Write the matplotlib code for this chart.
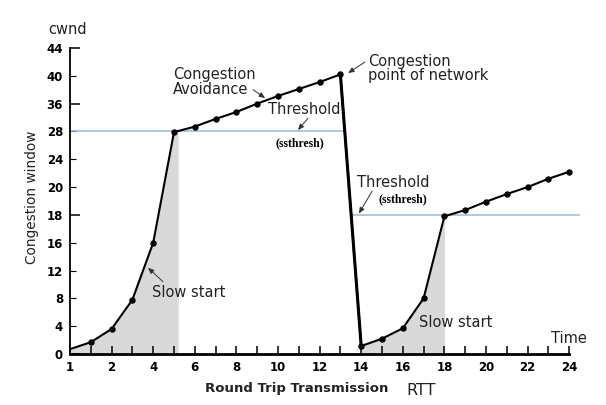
import numpy as np
import matplotlib.pyplot as plt

plt.rcParams['font.family'] = ['DejaVu Sans']

# curve points (x in RTT steps, y on the drawn window scale)
ss1_x = [0, 1, 2, 3, 4, 5]
ss1_y = [0.7, 1.7, 3.6, 7.8, 16.0, 31.9]
ca1_x = [5, 6, 7, 8, 9, 10, 11, 12, 13]
ca1_y = [31.9, 32.7, 33.8, 34.8, 36.0, 37.1, 38.1, 39.1, 40.2]
drop_x = [13, 14]
drop_y = [40.2, 1.15]
ss2_x = [14, 15, 16, 17, 18]
ss2_y = [1.15, 2.2, 3.7, 8.0, 19.8]
ca2_x = [18, 19, 20, 21, 22, 23, 24]
ca2_y = [19.8, 20.7, 21.9, 23.0, 24.0, 25.2, 26.2]

thresh1 = 32
thresh2 = 20
shade1_end = 5.2

ytick_pos = [0, 4, 8, 12, 16, 20, 24, 28, 32, 36, 40, 44]
ytick_lab = ['0', '4', '8', '12', '16', '18', '20', '24', '28', '36', '40', '44']
ytick_long = [0, 20, 36, 44]
xtick_pos = [0, 2, 4, 6, 8, 10, 12, 14, 16, 18, 20, 22, 24]
xtick_lab = ['1', '2', '4', '6', '8', '10', '12', '14', '16', '18', '20', '22', '24']

fig = plt.figure(figsize=(6.06, 4.05), dpi=100)
ax = fig.add_axes([70/606, 51/405, 520/606, 306/405])
ax.set_xlim(0, 25)
ax.set_ylim(0, 44)

gray = '#d9d9d9'
ax.fill_between(ss1_x + [shade1_end], ss1_y + [ss1_y[-1]], 0, color=gray, lw=0)
ax.fill_between(ss2_x, ss2_y, 0, color=gray, lw=0)

blue = '#9ab6da'
ax.plot([0, 13.17], [thresh1, thresh1], color=blue, lw=1.1)
ax.plot([13.56, 24.47], [thresh2, thresh2], color=blue, lw=1.1, clip_on=False)

px = ss1_x + ca1_x[1:] + ss2_x + ca2_x[1:]
py = ss1_y + ca1_y[1:] + ss2_y + ca2_y[1:]
ax.plot(px, py, color='black', lw=1.5)
ax.plot(px[1:], py[1:], 'o', color='black', ms=3.6, clip_on=False)
ax.plot(drop_x, drop_y, color='black', lw=2.2)

for s in ['top', 'right']:
    ax.spines[s].set_visible(False)
ax.spines['bottom'].set_linewidth(2)
ax.spines['bottom'].set_bounds(0, 24)
ax.spines['left'].set_linewidth(1.3)

ax.set_xticks(xtick_pos)
ax.set_xticklabels(xtick_lab, fontweight='bold', fontsize=8.5)
ax.set_xticks(range(1, 25, 2), minor=True)
ax.tick_params(axis='x', which='both', direction='in', length=5.5, width=1.1, pad=5)

ax.set_yticks(ytick_long)
ax.set_yticklabels([ytick_lab[ytick_pos.index(p)] for p in ytick_long], fontweight='bold', fontsize=8.5)
short = [p for p in ytick_pos if p not in ytick_long]
ax.set_yticks(short, minor=True)
ax.set_yticklabels([ytick_lab[ytick_pos.index(p)] for p in short], minor=True, fontweight='bold', fontsize=8.5)
ax.tick_params(axis='y', which='major', direction='in', length=7, width=1.1, pad=5)
ax.tick_params(axis='y', which='minor', direction='in', length=4, width=0.8, pad=5)

fs = 10.5
ax.text(4.95, 41.3, 'Congestion\nAvoidance', fontsize=fs, ha='left', va='top', linespacing=1.0, color='#222222')
ax.text(14.33, 43.2, 'Congestion\npoint of network', fontsize=fs, ha='left', va='top', linespacing=0.95,
        color='#222222', clip_on=False)
ax.text(11.25, 35.1, 'Threshold', fontsize=fs, ha='center', va='center', color='#222222')
ax.text(11.06, 30.3, '(ssthresh)', fontsize=8.5, family='Liberation Serif', fontweight='bold', ha='center', va='center')
ax.text(15.53, 24.6, 'Threshold', fontsize=fs, ha='center', va='center', color='#222222')
ax.text(16.0, 22.3, '(ssthresh)', fontsize=8.5, family='Liberation Serif', fontweight='bold', ha='center', va='center')
ax.text(5.72, 8.8, 'Slow start', fontsize=fs, ha='center', va='center', color='#222222')
ax.text(18.56, 4.46, 'Slow start', fontsize=fs, ha='center', va='center', color='#222222')
ax.text(23.99, 2.3, 'Time', fontsize=fs, ha='center', va='center', color='#222222')
ax.text(-0.14, 46.6, 'cwnd', fontsize=fs, ha='center', va='center', clip_on=False, color='#222222')
ax.text(10.9, -4.9, 'Round Trip Transmission', fontsize=9.5, fontweight='bold', ha='center', va='center',
        clip_on=False, color='#222222')
ax.text(16.9, -5.2, 'RTT', fontsize=11.5, ha='center', va='center', clip_on=False, color='#222222')
ax.text(-1.83, 22.6, 'Congestion window', fontsize=9.8, rotation=90, ha='center', va='center',
        clip_on=False, color='#222222')

arrows = [((8.80, 38.0), (9.38, 36.8)),
          ((11.44, 33.9), (10.96, 32.2)),
          ((14.18, 41.98), (13.37, 40.4)),
          ((14.52, 23.4), (13.89, 20.2)),
          ((4.47, 10.4), (3.75, 12.4))]
for tail, head in arrows:
    ax.annotate('', xy=head, xytext=tail,
                arrowprops=dict(arrowstyle='-|>,head_length=0.35,head_width=0.15', color='#333333', lw=0.7,
                                shrinkA=0, shrinkB=0))

fig.savefig('out.png', dpi=100)
